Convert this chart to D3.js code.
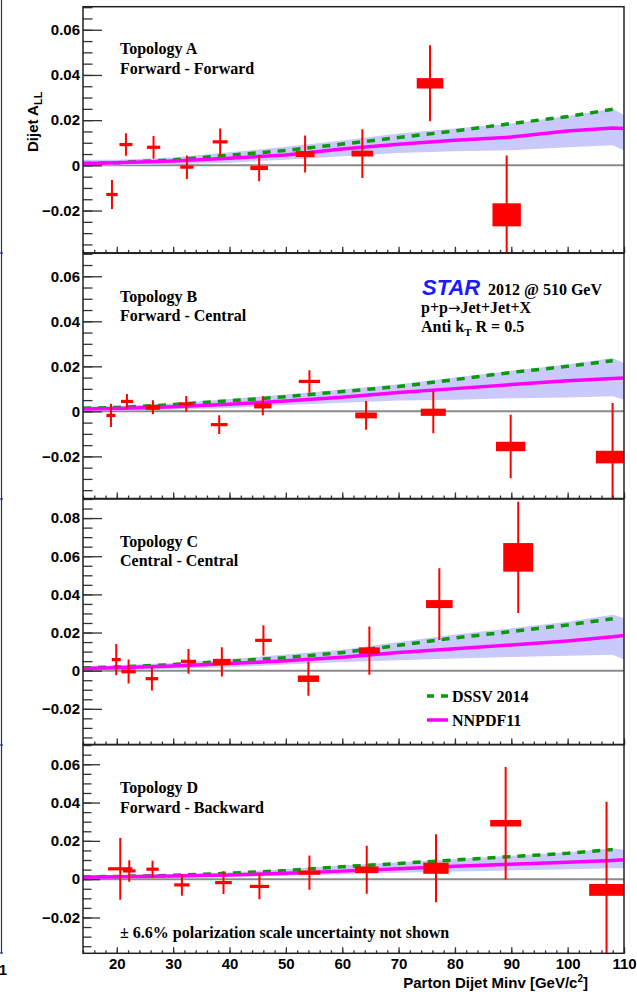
<!DOCTYPE html>
<html><head><meta charset="utf-8">
<script src="https://cdn.jsdelivr.net/npm/d3@7"></script>
<style>body{margin:0;background:#fff}svg{display:block}</style>
</head><body><script>
// ---------- DATA ----------
const xMajorTicks=[20,30,40,50,60,70,80,90,100,110];
const yMajorTicksStd=[-0.02,0,0.02,0.04,0.06];
const yMajorTicksC=[-0.02,0,0.02,0.04,0.06,0.08];
const theoryX=[14,20,30,40,50,60,70,80,90,100,108,110];

// Topology A
const aX=[19.14,21.62,26.52,32.44,38.34,45.26,53.41,63.57,75.58,89.18];
const aY=[-0.0129,0.0092,0.0080,-0.0008,0.0104,-0.0012,0.0050,0.0052,0.0363,-0.0219];
const aStat=[0.0064,0.0050,0.0050,0.0052,0.0059,0.0058,0.0082,0.0108,0.0168,0.0263];
const aSys=[0.0005,0.0005,0.0005,0.0005,0.0006,0.0009,0.0013,0.0013,0.0023,0.0051];
const aXsys=[1.0,1.15,1.18,1.18,1.33,1.57,1.68,1.92,2.36,2.52];
const aDSSV=[0.0008,0.0012,0.0024,0.0045,0.0066,0.0094,0.0123,0.0152,0.0185,0.0216,0.0248,null];
const aNNPDF=[0.0008,0.0011,0.0019,0.0031,0.0046,0.0072,0.0093,0.0111,0.0125,0.0152,0.0165,0.0163];
const aBandHi=[0.0025,0.0025,0.0035,0.0058,0.0082,0.0110,0.0141,0.0163,0.0185,0.0218,0.0252,0.0222];
const aBandLo=[-0.0003,0.0000,0.0005,0.0012,0.0025,0.0040,0.0055,0.0062,0.0067,0.0080,0.0089,0.0067];

// Topology B
const bX=[18.96,21.8,26.41,32.32,38.17,45.91,54.18,64.23,76.16,89.89,107.97];
const bY=[-0.0018,0.0044,0.0018,0.0033,-0.0059,0.0025,0.0133,-0.0018,-0.0004,-0.0156,-0.0203];
const bStat=[0.0052,0.0033,0.0031,0.0035,0.0042,0.0042,0.0050,0.0064,0.0093,0.0141,0.0240];
const bSys=[0.0005,0.0005,0.0011,0.0005,0.0005,0.0012,0.0007,0.0013,0.0016,0.0021,0.0028];
const bXsys=[0.8,1.06,1.27,1.27,1.48,1.54,1.89,1.92,2.22,2.6,2.96];
const bDSSV=[0.0014,0.0017,0.0030,0.0047,0.0065,0.0088,0.0110,0.0141,0.0173,0.0200,0.0225,null];
const bNNPDF=[0.0011,0.0013,0.0021,0.0032,0.0046,0.0063,0.0084,0.0101,0.0119,0.0136,0.0146,0.0148];
const bBandHi=[0.0022,0.0024,0.0035,0.0055,0.0075,0.0097,0.0120,0.0150,0.0180,0.0208,0.0237,0.0215];
const bBandLo=[0.0001,0.0003,0.0008,0.0015,0.0028,0.0038,0.0048,0.0052,0.0058,0.0062,0.0067,0.0052];

// Topology C
const cX=[19.9,22.09,26.23,32.72,38.64,46.02,54.0,64.82,77.23,91.23];
const cY=[0.0058,-0.0004,-0.0042,0.0049,0.0046,0.0159,-0.0042,0.0105,0.0349,0.0594];
const cStat=[0.0082,0.0063,0.0062,0.0065,0.0077,0.0079,0.0090,0.0127,0.0188,0.0292];
const cSys=[0.0005,0.0010,0.0005,0.0006,0.0016,0.0006,0.0017,0.0017,0.0021,0.0075];
const cXsys=[0.8,1.27,1.12,1.33,1.57,1.48,1.89,1.86,2.36,2.66];
const cDSSV=[0.0015,0.0019,0.0032,0.0050,0.0068,0.0095,0.0133,0.0172,0.0205,0.0240,0.0272,null];
const cNNPDF=[0.0012,0.0015,0.0025,0.0037,0.0052,0.0071,0.0095,0.0115,0.0135,0.0156,0.0178,0.0185];
const cBandHi=[0.0025,0.0028,0.0040,0.0060,0.0085,0.0110,0.0150,0.0190,0.0222,0.0256,0.0293,0.0276];
const cBandLo=[0.0002,0.0004,0.0010,0.0018,0.0032,0.0045,0.0055,0.0064,0.0072,0.0078,0.0084,0.0058];

// Topology D
const dX=[20.61,22.21,26.34,31.55,38.93,45.31,54.18,64.35,76.64,89.0,106.9];
const dY=[0.0054,0.0043,0.0052,-0.0030,-0.0018,-0.0038,0.0034,0.0049,0.0057,0.0292,-0.0056];
const dStat=[0.0161,0.0056,0.0044,0.0057,0.0059,0.0067,0.0089,0.0125,0.0178,0.0294,0.0460];
const dSys=[0.0005,0.0005,0.0005,0.0005,0.0005,0.0005,0.0011,0.0017,0.0029,0.0017,0.0031];
const dXsys=[2.16,1.12,1.09,1.36,1.48,1.71,1.95,2.07,2.25,2.75,3.08];
const dDSSV=[0.0012,0.0014,0.0020,0.0031,0.0045,0.0065,0.0082,0.0100,0.0118,0.0135,0.0155,null];
const dNNPDF=[0.0010,0.0012,0.0017,0.0022,0.0031,0.0042,0.0055,0.0068,0.0078,0.0088,0.0098,0.0101];
const dBandHi=[0.0018,0.0020,0.0025,0.0035,0.0052,0.0072,0.0088,0.0105,0.0122,0.0140,0.0162,0.0153];
const dBandLo=[0.0004,0.0005,0.0008,0.0012,0.0018,0.0025,0.0033,0.0040,0.0046,0.0052,0.0057,0.0057];

const topoTitles=["Topology A","Topology B","Topology C","Topology D"];
const topoSubs=["Forward - Forward","Forward - Central","Central - Central","Forward - Backward"];
const legendLabels=["DSSV 2014","NNPDF11"];

// ---------- LAYOUT ----------
const W=637,H=992;
const X0=83,X1=624;
const SANS="'Liberation Sans', Arial, sans-serif";
const SERIF="'Liberation Serif', 'Times New Roman', serif";
const RED="#ff0000",GREEN="#0a990a",MAG="#ff00ff",BAND="#c9c9fb";

const panels=[
 {top:6.7,bot:252.8,dom:[-0.0387,0.0702],ticks:yMajorTicksStd,x:aX,y:aY,stat:aStat,sys:aSys,xs:aXsys,dssv:aDSSV,nn:aNNPDF,hi:aBandHi,lo:aBandLo,tl:19,tm:9.5},
 {top:253.3,bot:498.5,dom:[-0.0387,0.0702],ticks:yMajorTicksStd,x:bX,y:bY,stat:bStat,sys:bSys,xs:bXsys,dssv:bDSSV,nn:bNNPDF,hi:bBandHi,lo:bBandLo,tl:19,tm:9.5},
 {top:499,bot:744.5,dom:[-0.0387,0.09],ticks:yMajorTicksC,x:cX,y:cY,stat:cStat,sys:cSys,xs:cXsys,dssv:cDSSV,nn:cNNPDF,hi:cBandHi,lo:cBandLo,tl:19,tm:9.5},
 {top:744.7,bot:953.3,dom:[-0.0387,0.0702],ticks:yMajorTicksStd,x:dX,y:dY,stat:dStat,sys:dSys,xs:dXsys,dssv:dDSSV,nn:dNNPDF,hi:dBandHi,lo:dBandLo,tl:17,tm:8.5}
];

const svg=d3.select("body").append("svg").attr("width",W).attr("height",H);
const defs=svg.append("defs");

const xs=d3.scaleLinear().domain([14,110]).range([X0,X1]);
const fmt=v=>v===0?"0":(v<0?"\u2212":"")+Math.abs(v).toFixed(2);

// left remnant of neighbouring figure
svg.append("line").attr("x1",1.5).attr("x2",1.5).attr("y1",0).attr("y2",953.5).attr("stroke","#333").attr("stroke-width",1.2);
[253,499,745,953].forEach(yy=>svg.append("line").attr("x1",0).attr("x2",3).attr("y1",yy).attr("y2",yy).attr("stroke","#2233aa").attr("stroke-width",1.2));
svg.append("text").attr("x",7).attr("y",975).attr("text-anchor","end").attr("font-family",SANS).attr("font-weight","bold").attr("font-size",15).text("1");

panels.forEach((p,i)=>{
  const ys=d3.scaleLinear().domain(p.dom).range([p.bot,p.top]);
  const g=svg.append("g");
  const cid="clip"+i;
  defs.append("clipPath").attr("id",cid).append("rect").attr("x",X0).attr("y",p.top).attr("width",X1-X0).attr("height",p.bot-p.top);
  const pg=g.append("g").attr("clip-path",`url(#${cid})`);

  // zero line
  pg.append("line").attr("x1",xs(14)).attr("x2",xs(110)).attr("y1",ys(0)).attr("y2",ys(0)).attr("stroke","#8a8a8a").attr("stroke-width",2);

  const idx=d3.range(theoryX.length);
  // band
  const area=d3.area().x(k=>xs(theoryX[k])).y0(k=>ys(p.lo[k])).y1(k=>ys(p.hi[k]));
  pg.append("path").attr("d",area(idx)).attr("fill",BAND);
  // DSSV dashed
  const lineG=d3.line().defined(k=>p.dssv[k]!==null).x(k=>xs(theoryX[k])).y(k=>ys(p.dssv[k]));
  pg.append("path").attr("d",lineG(idx)).attr("fill","none").attr("stroke",GREEN).attr("stroke-width",3.5).attr("stroke-dasharray","8,7");
  // NNPDF
  const lineM=d3.line().x(k=>xs(theoryX[k])).y(k=>ys(p.nn[k]));
  pg.append("path").attr("d",lineM(idx)).attr("fill","none").attr("stroke",MAG).attr("stroke-width",3.5);

  // data
  const pts=d3.range(p.x.length);
  pg.selectAll(".box").data(pts).enter().append("rect")
    .attr("x",k=>xs(p.x[k]-p.xs[k])).attr("width",k=>xs(p.x[k]+p.xs[k])-xs(p.x[k]-p.xs[k]))
    .attr("y",k=>{const h=Math.max(ys(p.y[k]-p.sys[k])-ys(p.y[k]+p.sys[k]),3.2);return ys(p.y[k])-h/2;})
    .attr("height",k=>Math.max(ys(p.y[k]-p.sys[k])-ys(p.y[k]+p.sys[k]),3.2))
    .attr("fill",RED);
  pg.selectAll(".err").data(pts).enter().append("line")
    .attr("x1",k=>xs(p.x[k])).attr("x2",k=>xs(p.x[k]))
    .attr("y1",k=>ys(p.y[k]+p.stat[k])).attr("y2",k=>ys(p.y[k]-p.stat[k]))
    .attr("stroke",RED).attr("stroke-width",2);

  // y axis
  const yMinor=d3.range(-0.035,p.dom[1]+1e-9,0.005).filter(v=>v>=p.dom[0]);
  const ax=g.append("g").attr("transform",`translate(${X0},0)`)
    .call(d3.axisLeft(ys).tickValues(p.ticks).tickSizeInner(-p.tl).tickSizeOuter(0).tickPadding(3).tickFormat(fmt));
  ax.select(".domain").remove();
  ax.selectAll("line").attr("stroke","#333").attr("stroke-width",1.3);
  ax.selectAll("text").attr("font-family",SANS).attr("font-weight","bold").attr("font-size",15).attr("fill","#000");
  const axm=g.append("g").attr("transform",`translate(${X0},0)`)
    .call(d3.axisLeft(ys).tickValues(yMinor).tickSizeInner(-p.tm).tickSizeOuter(0).tickFormat(""));
  axm.select(".domain").remove();
  axm.selectAll("line").attr("stroke","#333").attr("stroke-width",1.3);

  // x axis
  const xMinor=d3.range(14,110.01,2);
  const bx=g.append("g").attr("transform",`translate(0,${p.bot})`)
    .call(d3.axisBottom(xs).tickValues(xMajorTicks).tickSizeInner(-6).tickSizeOuter(0).tickPadding(5).tickFormat(i===3?d3.format("d"):""));
  bx.select(".domain").remove();
  bx.selectAll("line").attr("stroke","#333").attr("stroke-width",1.3);
  bx.selectAll("text").attr("font-family",SANS).attr("font-weight","bold").attr("font-size",15).attr("fill","#000");
  const bxm=g.append("g").attr("transform",`translate(0,${p.bot})`)
    .call(d3.axisBottom(xs).tickValues(xMinor).tickSizeInner(-3).tickSizeOuter(0).tickFormat(""));
  bxm.select(".domain").remove();
  bxm.selectAll("line").attr("stroke","#333").attr("stroke-width",1.3);

  // frame
  g.append("rect").attr("x",X0).attr("y",p.top).attr("width",X1-X0).attr("height",p.bot-p.top)
    .attr("fill","none").attr("stroke","#222").attr("stroke-width",1.5);

  // labels
  const tb=[54,301.7,546.7,793.3][i];
  g.append("text").attr("x",120).attr("y",tb).attr("font-family",SERIF).attr("font-weight","bold").attr("font-size",16).text(topoTitles[i]);
  g.append("text").attr("x",120).attr("y",tb+19.5).attr("font-family",SERIF).attr("font-weight","bold").attr("font-size",16).text(topoSubs[i]);
});

// y title
const yt=svg.append("text").attr("transform","translate(38,152) rotate(-90)").attr("font-family",SANS).attr("font-weight","bold").attr("font-size",15);
yt.append("tspan").text("Dijet A");
yt.append("tspan").attr("dy",4).attr("font-size",11).text("LL");

// x title
const xt=svg.append("text").attr("x",588).attr("y",988).attr("text-anchor","end").attr("font-family",SANS).attr("font-weight","bold").attr("font-size",15);
xt.append("tspan").text("Parton Dijet Minv [GeV/c");
xt.append("tspan").attr("dy",-6).attr("font-size",10).text("2");
xt.append("tspan").attr("dy",6).text("]");

// STAR label
svg.append("text").attr("x",422).attr("y",295).attr("font-family",SANS).attr("font-weight","bold").attr("font-style","italic").attr("font-size",22).attr("fill","#1a1aff").text("STAR");
svg.append("text").attr("x",488).attr("y",294.5).attr("font-family",SERIF).attr("font-weight","bold").attr("font-size",16).text("2012 @ 510 GeV");
const pp=svg.append("text").attr("x",421).attr("y",313).attr("font-family",SERIF).attr("font-weight","bold").attr("font-size",16);
pp.append("tspan").text("p+p");
pp.append("tspan").attr("font-family","'DejaVu Sans', sans-serif").attr("font-weight","normal").attr("font-size",15).text("\u2192");
pp.append("tspan").text("Jet+Jet+X");
const ak=svg.append("text").attr("x",421).attr("y",332).attr("font-family",SERIF).attr("font-weight","bold").attr("font-size",16);
ak.append("tspan").text("Anti k");
ak.append("tspan").attr("dy",4).attr("font-size",11).text("T");
ak.append("tspan").attr("dy",-4).text(" R = 0.5");

// legend
svg.append("line").attr("x1",427).attr("x2",448).attr("y1",696).attr("y2",696).attr("stroke",GREEN).attr("stroke-width",3.5).attr("stroke-dasharray","7,7");
svg.append("text").attr("x",452).attr("y",701.5).attr("font-family",SERIF).attr("font-weight","bold").attr("font-size",16).text(legendLabels[0]);
svg.append("line").attr("x1",427).attr("x2",448).attr("y1",720).attr("y2",720).attr("stroke",MAG).attr("stroke-width",3.5);
svg.append("text").attr("x",452).attr("y",725.5).attr("font-family",SERIF).attr("font-weight","bold").attr("font-size",16).text(legendLabels[1]);

// note
svg.append("text").attr("x",120).attr("y",937.5).attr("font-family",SERIF).attr("font-weight","bold").attr("font-size",16).text("\u00b1 6.6% polarization scale uncertainty not shown");
</script></body></html>
